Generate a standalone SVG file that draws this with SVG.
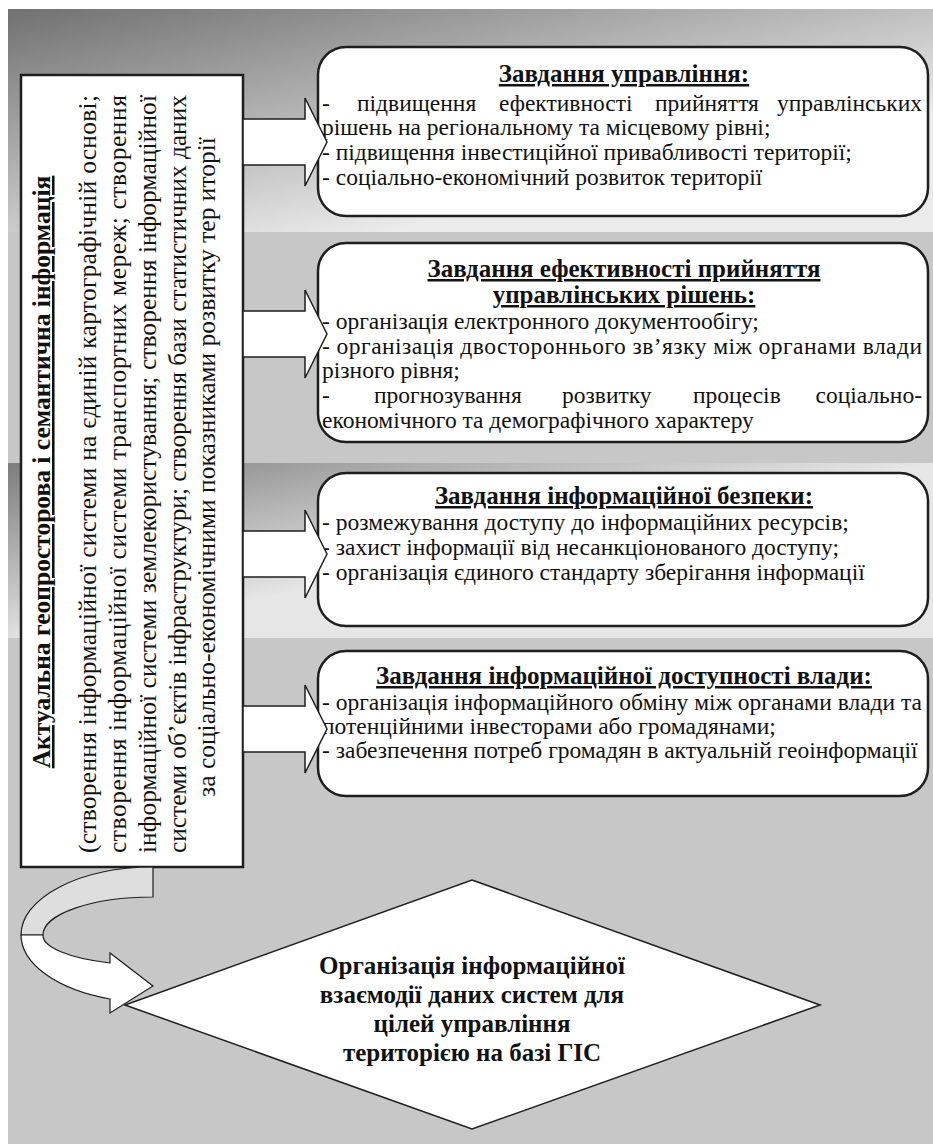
<svg xmlns="http://www.w3.org/2000/svg" width="933" height="1144" viewBox="0 0 933 1144">
<defs>
<linearGradient id="g1" gradientUnits="userSpaceOnUse" x1="8" y1="9" x2="70" y2="299">
<stop offset="0" stop-color="#717171"/><stop offset="1" stop-color="#ebebeb"/>
</linearGradient>
<linearGradient id="g3" gradientUnits="userSpaceOnUse" x1="8" y1="458" x2="45" y2="642">
<stop offset="0" stop-color="#7a7a7a"/><stop offset="1" stop-color="#e6e6e6"/>
</linearGradient>
<style>
.box{fill:#fff;stroke:#1e1e1e;stroke-width:2.5}
.arr{fill:#fff;stroke:#1e1e1e;stroke-width:1.5;stroke-linejoin:miter}
.t{font-family:"Liberation Serif","Times New Roman",serif;font-size:23.5px;fill:#111}
.h{font-family:"Liberation Serif","Times New Roman",serif;font-size:25px;font-weight:bold;fill:#111;text-anchor:middle;text-decoration:underline}
.v{font-family:"Liberation Serif","Times New Roman",serif;font-size:25.5px;fill:#111}
.vh{font-family:"Liberation Serif","Times New Roman",serif;font-size:25.5px;font-weight:bold;fill:#111;text-anchor:middle;text-decoration:underline}
.d{font-family:"Liberation Serif","Times New Roman",serif;font-size:25px;font-weight:bold;fill:#111;text-anchor:middle}
</style>
</defs>

<g id="background">
<rect x="8" y="9" width="925" height="224" fill="url(#g1)"/>
<rect x="8" y="232" width="925" height="232" fill="#c7c7c7"/>
<rect x="8" y="463" width="925" height="176" fill="url(#g3)"/>
<rect x="8" y="638" width="925" height="506" fill="#c7c7c7"/>
</g>

<g id="source">
<rect class="box" x="21" y="75" width="222" height="792"/>
<text class="vh" transform="translate(50,472) rotate(-90)">Актуальна геопросторова і семантична інформація</text>
<text class="v" transform="translate(96,853) rotate(-90)" textLength="758" lengthAdjust="spacing">(створення інформаційної системи на єдиній картографічній основі;</text>
<text class="v" transform="translate(126,853) rotate(-90)" textLength="758" lengthAdjust="spacing">створення інформаційної системи транспортних мереж; створення</text>
<text class="v" transform="translate(156,853) rotate(-90)" textLength="758" lengthAdjust="spacing">інформаційної системи землекористування; створення інформаційної</text>
<text class="v" transform="translate(186,853) rotate(-90)" textLength="758" lengthAdjust="spacing">системи об’єктів інфраструктури; створення бази статистичних даних</text>
<text class="v" text-anchor="middle" transform="translate(215,467) rotate(-90)">за соціально-економічними показниками розвитку тер иторії</text>
</g>

<g id="task-management">
<rect class="box" x="318" y="47" width="610" height="169" rx="28" ry="28"/>
<text class="h" x="624" y="82">Завдання управління:</text>
<text class="t" x="322" y="111">-</text>
<text class="t" x="357" y="111">підвищення</text>
<text class="t" x="499" y="111">ефективності</text>
<text class="t" x="655" y="111">прийняття</text>
<text class="t" x="922" y="111" text-anchor="end">управлінських</text>
<text class="t" x="322" y="135">рішень на регіональному та місцевому рівні;</text>
<text class="t" x="322" y="160">- підвищення інвестиційної привабливості території;</text>
<text class="t" x="322" y="185">- соціально-економічний розвиток території</text>
</g>

<g id="task-decisions">
<rect class="box" x="318" y="243" width="610" height="199" rx="28" ry="28"/>
<text class="h" x="624" y="277">Завдання ефективності прийняття</text>
<text class="h" x="624" y="303">управлінських рішень:</text>
<text class="t" x="322" y="329">- організація електронного документообігу;</text>
<text class="t" x="322" y="354" textLength="600" lengthAdjust="spacing">- організація двостороннього зв’язку між органами влади</text>
<text class="t" x="322" y="378">різного рівня;</text>
<text class="t" x="322" y="403">-</text>
<text class="t" x="374" y="403">прогнозування</text>
<text class="t" x="562" y="403">розвитку</text>
<text class="t" x="693" y="403">процесів</text>
<text class="t" x="922" y="403" text-anchor="end">соціально-</text>
<text class="t" x="322" y="428">економічного та демографічного характеру</text>
</g>

<g id="task-security">
<rect class="box" x="318" y="473" width="610" height="153" rx="28" ry="28"/>
<text class="h" x="624" y="504">Завдання інформаційної безпеки:</text>
<text class="t" x="322" y="530">- розмежування доступу до інформаційних ресурсів;</text>
<text class="t" x="322" y="555">- захист інформації від несанкціонованого доступу;</text>
<text class="t" x="322" y="580">- організація єдиного стандарту зберігання інформації</text>
</g>

<g id="task-access">
<rect class="box" x="318" y="651" width="610" height="145" rx="28" ry="28"/>
<text class="h" x="624" y="684">Завдання інформаційної доступності влади:</text>
<text class="t" x="322" y="710" textLength="600" lengthAdjust="spacing">- організація інформаційного обміну між органами влади та</text>
<text class="t" x="322" y="734">потенційними інвесторами або громадянами;</text>
<text class="t" x="322" y="758">- забезпечення потреб громадян в актуальній геоінформації</text>
</g>

<g id="result">
<polygon points="472,880 820,1005 472,1129 125,1005" fill="#fff" stroke="#1e1e1e" stroke-width="1.5"/>
<text class="d" x="472" y="974">Організація інформаційної</text>
<text class="d" x="472" y="1003">взаємодії даних систем для</text>
<text class="d" x="472" y="1032">цілей управління</text>
<text class="d" x="472" y="1061">територією на базі ГІС</text>
</g>

<g id="connectors">
<polygon class="arr" points="243,119 305,119 305,98 327,142 305,186 305,165 243,165"/>
<polygon class="arr" points="243,311 305,311 305,290 327,334 305,378 305,357 243,357"/>
<polygon class="arr" points="243,531 305,531 305,510 327,554 305,598 305,577 243,577"/>
<polygon class="arr" points="243,706 305,706 305,685 327,729 305,773 305,752 243,752"/>
<path d="M153,867 A132,68 0 0 0 21,935 L43,935 A110,38 0 0 1 153,897 Z" fill="#dedede" stroke="#1e1e1e" stroke-width="1.2"/>
<path d="M21,935 A132,68 0 0 0 110,999 L110,1013 L153,986 L110,953 L110,963 A110,30 0 0 1 43,935 Z" fill="#fff" stroke="#1e1e1e" stroke-width="1.2"/>
</g>
</svg>
